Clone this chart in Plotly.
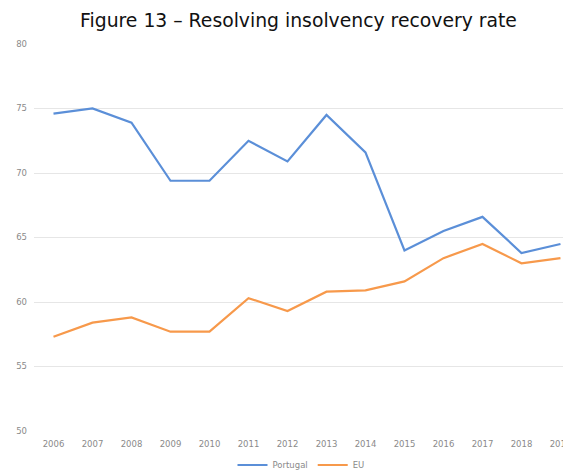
import plotly.graph_objects as go

years = [2006, 2007, 2008, 2009, 2010, 2011, 2012, 2013, 2014, 2015, 2016, 2017, 2018, 2019]
portugal = [74.6, 75.0, 73.9, 69.4, 69.4, 72.5, 70.9, 74.5, 71.6, 64.0, 65.5, 66.6, 63.8, 64.5]
eu = [57.3, 58.4, 58.8, 57.7, 57.7, 60.3, 59.3, 60.8, 60.9, 61.6, 63.4, 64.5, 63.0, 63.4]
y_ticks = [50, 55, 60, 65, 70, 75, 80]

W, H = 563, 463  # page body has an 8px default margin

fig = go.Figure()
fig.add_trace(go.Scatter(x=years, y=portugal, mode="lines", name="Portugal",
                         line=dict(color="#5b8fd8", width=2.2)))
fig.add_trace(go.Scatter(x=years, y=eu, mode="lines", name="EU",
                         line=dict(color="#f7994b", width=2.2)))

tick_font = dict(family="DejaVu Sans, Verdana, sans-serif", size=8.5, color="#8a8a8a")

fig.update_layout(
    width=W, height=H,
    margin=dict(l=26, r=0, t=36, b=40, autoexpand=False),
    paper_bgcolor="white", plot_bgcolor="white",
    title=dict(text="Figure 13 – Resolving insolvency recovery rate",
               x=290.5 / W, xanchor="center", xref="container",
               y=1 - 12 / H, yanchor="middle", yref="container",
               font=dict(family="DejaVu Sans, Verdana, sans-serif", size=18.8, color="#111111")),
    xaxis=dict(range=[2005.5, 2019.27], tickmode="array", tickvals=years,
               ticktext=[str(y) for y in years], showgrid=False, zeroline=False,
               showline=False, ticks="", tickfont=tick_font, ticklabelstandoff=6,
               automargin=False, ticklabeloverflow="allow"),
    yaxis=dict(range=[50, 80], tickvals=y_ticks, showgrid=True, gridcolor="#e6e6e6",
               gridwidth=1, zeroline=False, showline=False, ticks="",
               tickfont=tick_font, ticklabelstandoff=6, automargin=False),
    legend=dict(orientation="h", x=293 / W, xanchor="center", xref="container",
                y=1 - 457 / H, yanchor="middle", yref="container",
                font=dict(family="DejaVu Sans, Verdana, sans-serif", size=8.5, color="#8a8a8a"),
                itemwidth=30, tracegroupgap=0),
    showlegend=True,
)

fig.write_html("out.html")
